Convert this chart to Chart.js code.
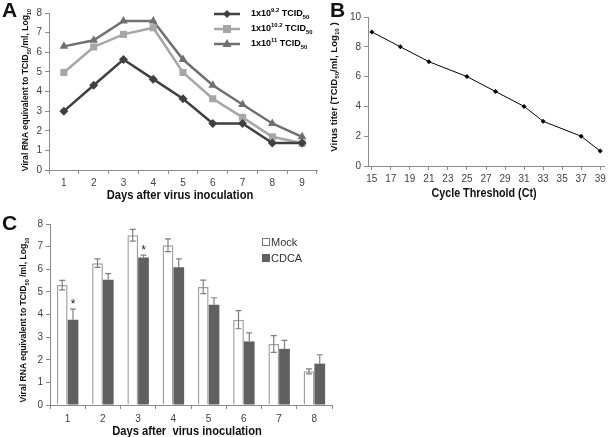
<!DOCTYPE html>
<html>
<head>
<meta charset="utf-8">
<script src="https://cdn.jsdelivr.net/npm/chart.js@4"></script>
<style>
    body { margin: 0; background: #fff; font-family: "Liberation Sans", Arial, sans-serif; }
    #wrap { position: relative; width: 608px; height: 437px; overflow: hidden; }
    canvas { position: absolute; }
    .lbl { position: absolute; white-space: nowrap; color: #111; }
    .rot { transform: translate(-50%, -50%) rotate(-90deg); }
    .ctr { transform: translate(-50%, -50%) scaleX(0.86); }
    .panel { font-size: 21px; font-weight: bold; }
    .xt { font-size: 13px; font-weight: bold; }
    .yt { font-size: 8.6px; font-weight: bold; }
    sub, sup { font-size: 65%; line-height: 0; }
    .leg { position: absolute; font-size: 9px; font-weight: bold; white-space: nowrap; }
    .legc { position: absolute; font-size: 11px; color: #333; white-space: nowrap; }
</style>
</head>
<body>
<div id="wrap">
    <canvas id="chartA" width="325" height="190" style="left:0;top:0"></canvas>
    <canvas id="chartB" width="288" height="190" style="left:320px;top:0"></canvas>
    <canvas id="chartC" width="340" height="222" style="left:0;top:215px"></canvas>

    <div class="lbl panel" style="left:2px;top:-2px">A</div>
    <div class="lbl panel" style="left:330px;top:-2px">B</div>
    <div class="lbl panel" style="left:2px;top:211px">C</div>

    <div class="lbl yt rot" style="left:25px;top:90px">Viral RNA equivalent to TCID<sub>50</sub>/ml, Log<sub>10</sub></div>
    <div class="lbl xt ctr" style="left:180px;top:194px">Days after virus inoculation</div>

    <div class="lbl yt rot" style="left:333px;top:87px;font-size:9.6px">Virus titer (TCID<sub>50</sub>/ml, Log<sub>10</sub> )</div>
    <div class="lbl xt ctr" style="left:484px;top:193px;font-size:12.5px">Cycle Threshold (Ct)</div>

    <div class="lbl yt rot" style="left:23px;top:320px">Viral RNA equivalent to TCID<sub>50</sub> /ml, Log<sub>10</sub></div>
    <div class="lbl xt ctr" style="left:187px;top:430px">Days after&nbsp; virus inoculation</div>

    <!-- legend A -->
    <svg style="position:absolute;left:213px;top:6px" width="28" height="46">
        <line x1="1" y1="8" x2="27" y2="8" stroke="#404040" stroke-width="2.5"/>
        <polygon points="14,4 18,8 14,12 10,8" fill="#404040"/>
        <line x1="1" y1="23" x2="27" y2="23" stroke="#a6a6a6" stroke-width="2.5"/>
        <rect x="10" y="19" width="8" height="8" fill="#a6a6a6"/>
        <line x1="1" y1="38" x2="27" y2="38" stroke="#707070" stroke-width="2.5"/>
        <polygon points="14,33 18.5,41 9.5,41" fill="#707070"/>
    </svg>
    <div class="leg" style="left:251px;top:8px">1x10<sup>9.2</sup> TCID<sub>50</sub></div>
    <div class="leg" style="left:251px;top:23px">1x10<sup>10.2</sup> TCID<sub>50</sub></div>
    <div class="leg" style="left:251px;top:38px">1x10<sup>11</sup> TCID<sub>50</sub></div>

    <!-- legend C -->
    <div class="legc" style="left:262px;top:236px"><span style="display:inline-block;width:6px;height:6px;border:1px solid #777;margin-right:1px"></span>Mock</div>
    <div class="legc" style="left:262px;top:252px"><span style="display:inline-block;width:8px;height:8px;background:#606060;margin-right:1px"></span>CDCA</div>
</div>

<script>
// Panel A: viral load after inoculation
const daysA = ['1', '2', '3', '4', '5', '6', '7', '8', '9'];
const dose92 = [3.0, 4.32, 5.63, 4.63, 3.63, 2.37, 2.37, 1.37, 1.37];
const dose102 = [4.97, 6.27, 6.91, 7.25, 4.97, 3.63, 2.68, 1.69, 1.36];
const dose11 = [6.3, 6.61, 7.59, 7.59, 5.63, 4.32, 3.34, 2.37, 1.69];

// Panel B: standard curve
const ctValues = [15, 18, 21, 25, 28, 31, 33, 37, 39];
const titers = [9, 8, 7, 6, 5, 4, 3, 2, 1];
const ctTicks = [15, 17, 19, 21, 23, 25, 27, 29, 31, 33, 35, 37, 39];

// Panel C: mock vs CDCA
const daysC = ['1', '2', '3', '4', '5', '6', '7', '8'];
const mock = [5.30, 6.27, 7.50, 7.06, 5.22, 3.77, 2.70, 1.49];
const mockErr = [0.21, 0.19, 0.26, 0.28, 0.30, 0.40, 0.37, 0.11];
const cdca = [3.77, 5.54, 6.52, 6.09, 4.43, 2.81, 2.48, 1.83];
const cdcaErr = [0.47, 0.27, 0.10, 0.37, 0.31, 0.38, 0.38, 0.39];
const signif = ['*', '', '*', '', '', '', '', ''];

const tickFont = { family: 'Liberation Sans', size: 10 };
const axisGray = '#8c8c8c';

function gridOpts(offset) {
    return { drawOnChartArea: false, color: axisGray, tickLength: 4, offset: offset };
}

// fix axis sizes so plot areas land where the figure has them
const fixWidth = w => s => { s.width = w; };
const fixHeight = h => s => { s.height = h; s.paddingLeft = 0; s.paddingRight = 0; };

new Chart(document.getElementById('chartA'), {
    type: 'line',
    data: {
        labels: daysA,
        datasets: [
            { data: dose92, borderColor: '#404040', backgroundColor: '#404040', pointStyle: 'rectRot', pointRadius: 4.5 },
            { data: dose102, borderColor: '#a6a6a6', backgroundColor: '#a6a6a6', pointStyle: 'rect', pointRadius: 5 },
            { data: dose11, borderColor: '#707070', backgroundColor: '#707070', pointStyle: 'triangle', pointRadius: 5 }
        ]
    },
    options: {
        responsive: false,
        animation: false,
        devicePixelRatio: 1,
        elements: { line: { borderWidth: 2.5, tension: 0 }, point: { borderWidth: 0 } },
        layout: { padding: { top: 13, right: 8, left: 0, bottom: 0 } },
        plugins: { legend: { display: false }, tooltip: { enabled: false } },
        scales: {
            x: {
                offset: true,
                grid: gridOpts(true),
                border: { color: axisGray },
                ticks: { font: tickFont, color: '#404040', padding: 3 },
                afterFit: fixHeight(20)
            },
            y: {
                min: 0, max: 8,
                grid: gridOpts(false),
                border: { color: axisGray },
                ticks: { stepSize: 1, font: tickFont, color: '#404040', padding: 3 },
                afterFit: fixWidth(49)
            }
        }
    }
});

new Chart(document.getElementById('chartB'), {
    type: 'line',
    data: {
        datasets: [{
            data: ctValues.map((c, i) => ({ x: c, y: titers[i] })),
            borderColor: '#000', backgroundColor: '#000',
            borderWidth: 1, pointStyle: 'rectRot', pointRadius: 2.5, pointBorderWidth: 0
        }]
    },
    options: {
        responsive: false,
        animation: false,
        devicePixelRatio: 1,
        layout: { padding: { top: 17, right: 1, left: 0, bottom: 0 } },
        plugins: { legend: { display: false }, tooltip: { enabled: false } },
        scales: {
            x: {
                type: 'linear',
                min: 14.6, max: 39.4,
                afterBuildTicks: s => { s.ticks = ctTicks.map(v => ({ value: v })); },
                grid: gridOpts(false),
                border: { color: axisGray },
                ticks: { font: tickFont, color: '#404040', padding: 3 },
                afterFit: fixHeight(24)
            },
            y: {
                min: 0, max: 10,
                grid: gridOpts(false),
                border: { color: axisGray },
                ticks: { stepSize: 2, font: tickFont, color: '#404040', padding: 3 },
                afterFit: fixWidth(48)
            }
        }
    }
});

// error bars and significance stars for panel C
const errorBars = {
    id: 'errorBars',
    afterDatasetsDraw(chart) {
        const ctx = chart.ctx;
        const y = chart.scales.y;
        ctx.save();
        ctx.strokeStyle = '#7f7f7f';
        ctx.lineWidth = 1.2;
        chart.data.datasets.forEach((ds, di) => {
            const meta = chart.getDatasetMeta(di);
            meta.data.forEach((bar, i) => {
                const v = ds.data[i], e = ds.errors[i];
                const top = y.getPixelForValue(v + e);
                const bot = ds.lowerErr ? y.getPixelForValue(v - e) : bar.y;
                ctx.beginPath();
                ctx.moveTo(bar.x, top); ctx.lineTo(bar.x, bot);
                ctx.moveTo(bar.x - 3, top); ctx.lineTo(bar.x + 3, top);
                if (ds.lowerErr) { ctx.moveTo(bar.x - 3, bot); ctx.lineTo(bar.x + 3, bot); }
                ctx.stroke();
                if (ds.stars && ds.stars[i]) {
                    ctx.fillStyle = '#222';
                    ctx.font = '12px Liberation Sans';
                    ctx.textAlign = 'center';
                    ctx.fillText(ds.stars[i], bar.x, top - 1);
                }
            });
        });
        ctx.restore();
    }
};

new Chart(document.getElementById('chartC'), {
    type: 'bar',
    data: {
        labels: daysC,
        datasets: [
            { data: mock, errors: mockErr, lowerErr: true, backgroundColor: '#ffffff', borderColor: '#a0a0a0', borderWidth: 1.5 },
            { data: cdca, errors: cdcaErr, lowerErr: false, stars: signif, backgroundColor: '#606060', borderWidth: 0 }
        ]
    },
    options: {
        responsive: false,
        animation: false,
        devicePixelRatio: 1,
        categoryPercentage: 0.61,
        barPercentage: 1,
        layout: { padding: { top: 6, right: 8, left: 0, bottom: 0 } },
        plugins: { legend: { display: false }, tooltip: { enabled: false } },
        scales: {
            x: {
                grid: gridOpts(true),
                border: { color: axisGray },
                ticks: { font: tickFont, color: '#404040', padding: 4 },
                afterFit: fixHeight(32)
            },
            y: {
                min: 0, max: 8,
                grid: gridOpts(false),
                border: { color: axisGray },
                ticks: { stepSize: 1, font: tickFont, color: '#404040', padding: 3 },
                afterFit: fixWidth(50)
            }
        }
    },
    plugins: [errorBars]
});
</script>
</body>
</html>
